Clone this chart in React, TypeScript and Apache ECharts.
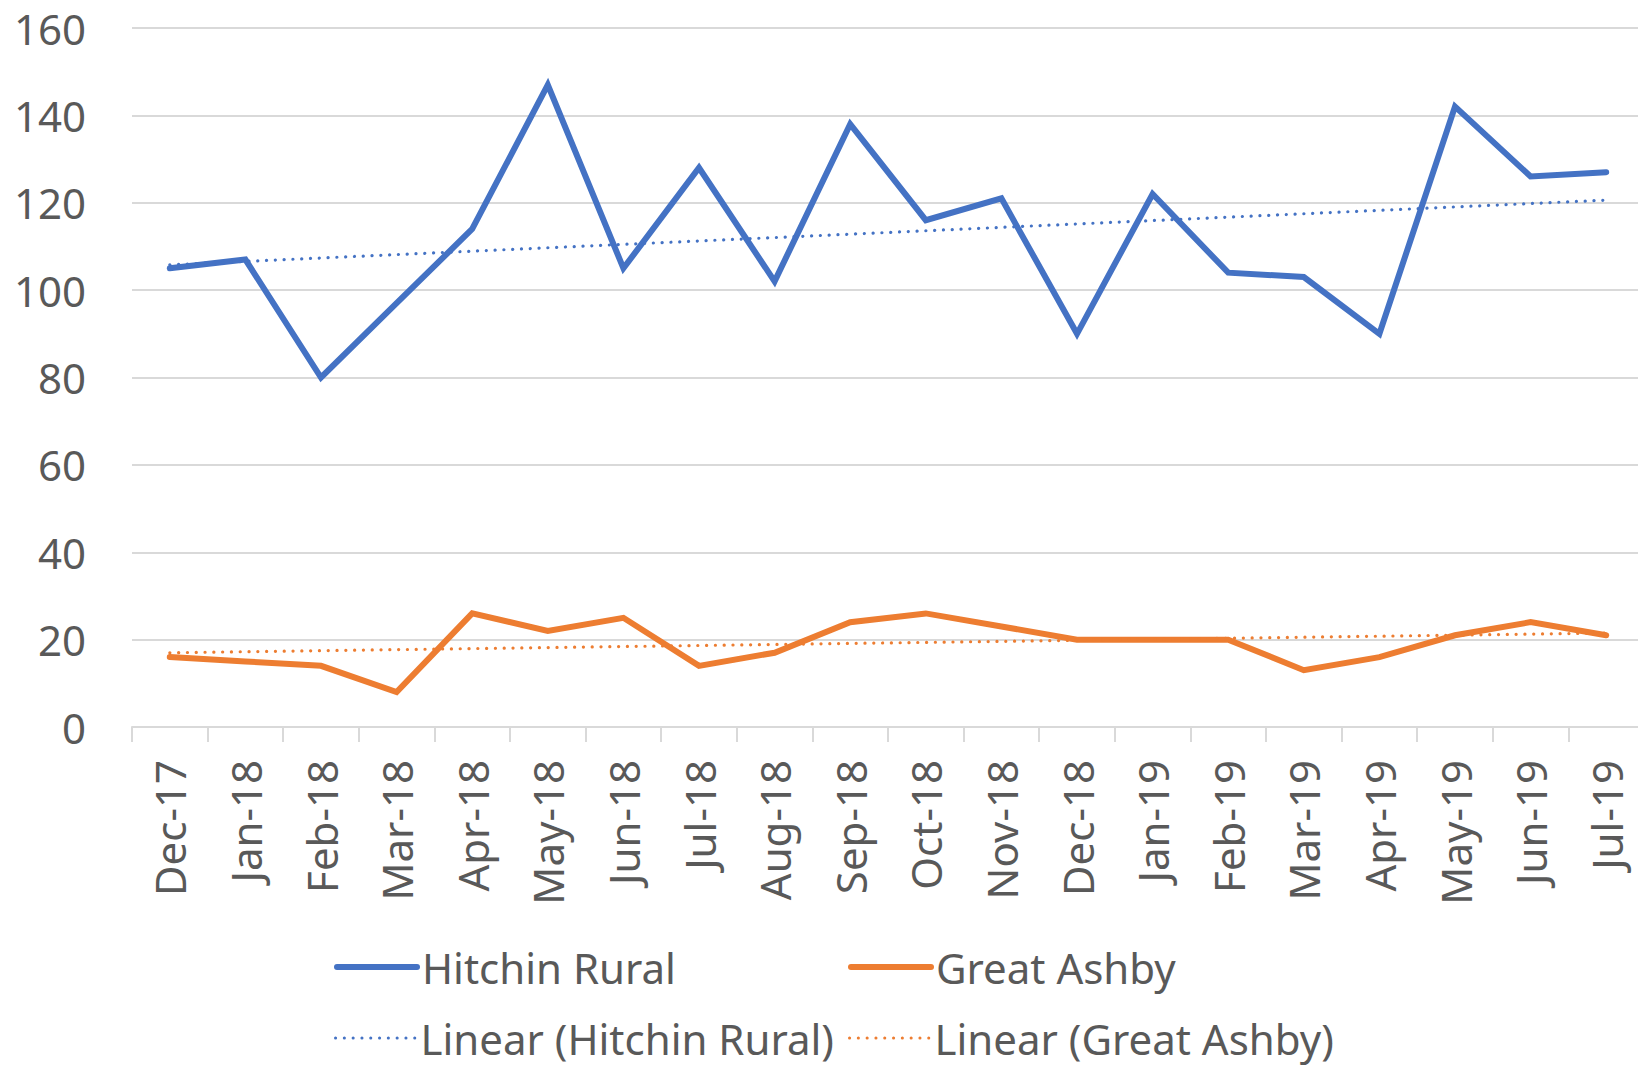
import React, { useEffect, useRef } from "react";
import * as echarts from "echarts";

const categories = [
  "Dec-17", "Jan-18", "Feb-18", "Mar-18", "Apr-18", "May-18", "Jun-18", "Jul-18",
  "Aug-18", "Sep-18", "Oct-18", "Nov-18", "Dec-18", "Jan-19", "Feb-19", "Mar-19",
  "Apr-19", "May-19", "Jun-19", "Jul-19",
];
const hitchinRural = [105, 107, 80, 97, 114, 147, 105, 128, 102, 138, 116, 121, 90, 122, 104, 103, 90, 142, 126, 127];
const greatAshby = [16, 15, 14, 8, 26, 22, 25, 14, 17, 24, 26, 23, 20, 20, 20, 13, 16, 21, 24, 21];
// trendline endpoints (first and last category)
const hitchinTrend = [105.8, 120.6];
const ashbyTrend = [17.0, 21.5];
const yTicks = { min: 0, max: 160, interval: 20 };

const BLUE = "#4472C4";
const ORANGE = "#ED7D31";
const TEXT = "#595959";
const GRID = "#D9D9D9";
const FONT = "Noto Sans";
const FS = 42;

export default function App() {
  const ref = useRef<HTMLDivElement>(null);
  useEffect(() => {
    if (!ref.current) return;
    const chart = echarts.init(ref.current, undefined, { renderer: "svg" });
    const last = categories.length - 1;
    const dotted = [0.1, 8.7];
    const legendBase = {
      orient: "horizontal" as const,
      padding: 0,
      itemWidth: 80,
      itemHeight: 14,
      itemGap: 0,
      selectedMode: false,
      itemStyle: { opacity: 0 },
      textStyle: { color: TEXT, fontSize: FS, fontFamily: FONT },
    };
    chart.setOption({
      animation: false,
      backgroundColor: "#ffffff",
      textStyle: { fontFamily: FONT },
      grid: {
        left: 132,
        width: 1512,
        top: 28,
        bottom: 341,
        containLabel: false,
        outerBoundsMode: "none",
      },
      xAxis: {
        type: "category",
        data: categories,
        boundaryGap: true,
        axisLine: { show: true, lineStyle: { color: GRID, width: 2 } },
        axisTick: { show: true, length: 15, lineStyle: { color: GRID, width: 2 } },
        axisLabel: {
          rotate: 90,
          margin: 33,
          color: TEXT,
          fontSize: FS,
          fontFamily: FONT,
          interval: 0,
        },
        splitLine: { show: false },
      },
      yAxis: {
        type: "value",
        min: yTicks.min,
        max: yTicks.max,
        interval: yTicks.interval,
        axisLine: { show: false },
        axisTick: { show: false },
        axisLabel: { margin: 46, color: TEXT, fontSize: FS, fontFamily: FONT },
        splitLine: { show: true, lineStyle: { color: GRID, width: 2 } },
      },
      legend: [
        { ...legendBase, data: ["Hitchin Rural"], left: 334, top: 946, lineStyle: { width: 6 } },
        { ...legendBase, data: ["Great Ashby"], left: 848, top: 946, lineStyle: { width: 6 } },
        { ...legendBase, data: ["Linear (Hitchin Rural)"], left: 334, top: 1017, lineStyle: { width: 3 } },
        { ...legendBase, data: ["Linear (Great Ashby)"], left: 848, top: 1017, lineStyle: { width: 3 } },
      ],
      series: [
        {
          name: "Hitchin Rural",
          type: "line",
          data: hitchinRural,
          symbol: "none",
          color: BLUE,
          lineStyle: { color: BLUE, width: 6, cap: "round", join: "miter" },
        },
        {
          name: "Great Ashby",
          type: "line",
          data: greatAshby,
          symbol: "none",
          color: ORANGE,
          lineStyle: { color: ORANGE, width: 6, cap: "round", join: "miter" },
        },
        {
          name: "Linear (Hitchin Rural)",
          type: "line",
          data: [[0, hitchinTrend[0]], [last, hitchinTrend[1]]],
          symbol: "none",
          color: BLUE,
          lineStyle: { color: BLUE, width: 3.2, type: dotted, cap: "round" },
        },
        {
          name: "Linear (Great Ashby)",
          type: "line",
          data: [[0, ashbyTrend[0]], [last, ashbyTrend[1]]],
          symbol: "none",
          color: ORANGE,
          lineStyle: { color: ORANGE, width: 3.2, type: dotted, cap: "round" },
        },
      ],
    });
    return () => chart.dispose();
  }, []);
  return (
    <div
      ref={ref}
      style={{ position: "absolute", left: 0, top: 0, width: 1638, height: 1068 }}
    />
  );
}
